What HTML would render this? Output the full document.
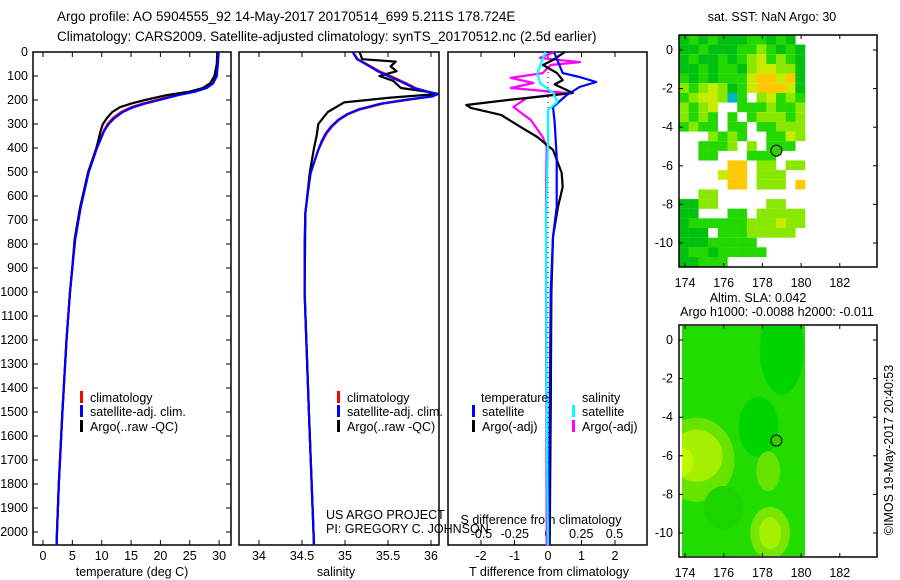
<!DOCTYPE html>
<html><head><meta charset="utf-8"><style>
body{margin:0;background:#fff}
svg{display:block;font-family:"Liberation Sans",sans-serif}
text{font-size:12.5px;fill:#000}
</style></head><body>
<svg id="fig" width="900" height="580" viewBox="0 0 900 580" xmlns="http://www.w3.org/2000/svg">
<defs><clipPath id="m2clip"><rect x="682" y="326" width="123" height="230"/></clipPath></defs>
<rect width="900" height="580" fill="#fff"/>
<text x="57" y="21" style="font-size:13.5px">Argo profile: AO 5904555_92 14-May-2017 20170514_699 5.211S 178.724E</text>
<text x="57" y="41" style="font-size:13.5px">Climatology: CARS2009. Satellite-adjusted climatology: synTS_20170512.nc (2.5d earlier)</text>
<g id="p1"></g>
<g id="p2"></g>
<g id="p3"></g>
<g id="m1"></g>
<g id="m2"></g>
<text x="772" y="21" text-anchor="middle">sat. SST: NaN Argo: 30</text>
<text x="758" y="302" text-anchor="middle">Altim. SLA: 0.042</text>
<text x="777" y="316" text-anchor="middle">Argo h1000: -0.0088 h2000: -0.011</text>
<text transform="translate(893,450) rotate(-90)" text-anchor="middle">©IMOS 19-May-2017 20:40:53</text>
</svg>
<script>
// ---- data ----
const depthTicks=[0,100,200,300,400,500,600,700,800,900,1000,1100,1200,1300,1400,1500,1600,1700,1800,1900,2000];
const tempTicks=[0,5,10,15,20,25,30];
const salTicks=[34,34.5,35,35.5,36];
const salTickLabels=["34","34.5","35","35.5","36"];
const tdTicks=[-2,-1,0,1,2];
const sdTicks=[-0.5,-0.25,0,0.25,0.5];
const sdTickLabels=["-0.5","-0.25","0","0.25","0.5"];

const depthT=[0,50,100,130,150,165,180,200,215,230,250,275,300,330,360,400,450,500,575,650,780,900,1000,1200,1500,1800,2055];
const tClim=[29.8,29.7,29.4,28.7,27.5,25.5,22.5,19.4,17,15,13.3,11.9,11.0,10.3,9.8,9.2,8.4,7.7,7.0,6.3,5.4,5.0,4.6,4.0,3.3,2.7,2.3];
const tSat=[29.9,29.8,29.6,29.0,27.9,26,23,19.8,17.4,15.4,13.6,12.2,11.2,10.4,9.9,9.2,8.5,7.8,7.1,6.4,5.5,5.0,4.6,4.0,3.3,2.7,2.3];
const tArgo=[29.7,29.6,29.2,28.5,27.2,25,21,17.4,15,13.1,11.8,10.9,10.2,9.8,9.5,9.1,8.4,7.7,7.0,6.3,5.4,5.0,4.6,4.0,3.3,2.7,2.3];

const depthS=[0,30,54,80,100,125,150,165,175,185,200,215,240,260,283,310,337,370,408,450,505,580,670,800,1000,1500,2055];
const sClim=[35.09,35.15,35.27,35.4,35.53,35.68,35.82,35.96,36.08,36.0,35.72,35.45,35.17,35.03,34.93,34.85,34.79,34.74,34.69,34.65,34.6,34.57,34.54,34.53,34.53,34.58,34.64];
const sSat=[35.09,35.14,35.26,35.38,35.5,35.66,35.8,35.95,36.08,36.02,35.69,35.42,35.15,35.02,34.92,34.84,34.78,34.73,34.69,34.65,34.6,34.57,34.54,34.53,34.53,34.58,34.64];
const depthSA=[0,30,40,60,80,100,120,150,165,175,190,210,250,300,350,400,505,670,1000,1500,2055];
const sArgo=[35.17,35.2,35.59,35.53,35.6,35.4,35.56,35.65,35.95,36.08,35.53,34.99,34.8,34.69,34.67,34.64,34.59,34.54,34.53,34.58,34.64];

const depthDB=[0,88,104,125,146,179,229,296,437,646,770,1000,1500,2055];
const dTsat=[0.18,0.44,0.94,1.44,0.94,0.56,0.15,0.2,0.26,0.26,0.15,0.08,0.05,0.03];
const depthDK=[0,33,54,88,117,135,171,200,221,233,262,312,354,408,504,562,646,770,1000,1500,2055];
const dTargo=[0.5,0.15,-0.15,0.27,0.44,0.2,0.74,-1.2,-2.44,-2.3,-1.4,-0.82,-0.32,0.15,0.41,0.44,0.3,0.15,0.1,0.08,0.05];
const depthDM=[0,25,42,54,88,108,129,150,171,192,229,283,354,396,600,1000,2055];
const dSargo=[0.05,-0.06,0.24,0.02,-0.04,-0.28,-0.11,-0.28,0.14,-0.16,-0.26,-0.13,-0.04,-0.01,-0.015,-0.015,-0.01];
const depthDC=[0,88,129,171,208,242,367,700,1500,2055];
const dSsat=[-0.02,-0.08,-0.06,0.04,0.07,0,0,-0.015,-0.01,0];

const lonTicks=[174,176,178,180,182];
const latTicks=[0,-2,-4,-6,-8,-10];
const sstGrid=[
"gGgGgggGGgGg.",
"ggGgggGGlGgGg",
"gGggGgGlyGlGg",
"ggGgGGglyyllg",
"GgGgGGGyooyog",
"lGlylgGyoooyg",
"GlyylcG.lyGlG",
"lGly..GGGlGGl",
"lGlG.G.GlllGl",
"GlGG.GG.GGlll",
"...lGlG..GGyl",
"..GGGl.l.GGG.",
"..GG...GGG...",
".....oo.ll.ll",
"....yoo.lll..",
".....oo.lll.o",
"..ll.........",
"ggll.....ll..",
"gg...GG.lllll",
"gGGGGGGlllyll",
"ggg.GGGlllll.",
"gggGGGGG.....",
"gGGgGGGGG....",
"ggGGG........"];
const argoLon=178.724, argoLat=-5.211;

// ---- helpers ----
const NS="http://www.w3.org/2000/svg";
function mk(parent,tag,attrs){const e=document.createElementNS(NS,tag);for(const k in attrs)e.setAttribute(k,attrs[k]);parent.appendChild(e);return e;}
const Y0=52,PY=0.24;
const yD=d=>Y0+d*PY;
const BOT=545;
const xT=t=>43+t*5.87;
const xS=s=>259+(s-34)*86;
const xTD=t=>548+t*33.5;
const xSD=s=>548+s*133;

function box(g,x0,x1){
  const r=mk(g,'rect',{x:x0,y:Y0,width:x1-x0,height:BOT-Y0,fill:'none',stroke:'#000','stroke-width':1.5});
  
  
}
function xticks(g,vals,labels,fx,ylab,name){
  vals.forEach((v,i)=>{
    const x=fx(v);
    mk(g,'line',{x1:x,x2:x,y1:BOT,y2:BOT-5,stroke:'#000'});
    mk(g,'line',{x1:x,x2:x,y1:Y0,y2:Y0+5,stroke:'#000'});
    const t=mk(g,'text',{x:x,y:ylab,'text-anchor':'middle'});
    t.textContent=labels[i];
    
    
  });
}
function line(g,ds,vs,fx,color,name,w){
  const pts=ds.map((d,i)=>fx(vs[i]).toFixed(1)+','+yD(d).toFixed(1)).join(' ');
  const p=mk(g,'polyline',{points:pts,fill:'none',stroke:color,'stroke-width':w||2.2,'stroke-linejoin':'round'});
  
  
}
function legend(g,x,y,color,label,name){
  mk(g,'rect',{x:x,y:y-11,width:3,height:12,fill:color});
  const t=mk(g,'text',{x:x+10,y:y});
  t.textContent=label;
  
  
}
// ---- panel 1 ----
const p1=document.getElementById('p1');
box(p1,33,231);
depthTicks.forEach(d=>{
  const y=yD(d);
  mk(p1,'line',{x1:33,x2:38,y1:y,y2:y,stroke:'#000'});
  mk(p1,'line',{x1:231,x2:226,y1:y,y2:y,stroke:'#000'});
  const t=mk(p1,'text',{x:28,y:y+4,'text-anchor':'end'});
  t.textContent=d;
  
  
});
xticks(p1,tempTicks,tempTicks.map(String),xT,560,'temperature');
const xl1=mk(p1,'text',{x:132,y:576,'text-anchor':'middle'});xl1.textContent='temperature (deg C)';


line(p1,depthT,tClim,xT,'#f00','temp-climatology-line');
line(p1,depthT,tArgo,xT,'#000','temp-argo-line');
line(p1,depthT,tSat,xT,'#00f','temp-satellite-line');
legend(p1,80,402,'#f00','climatology','legend-climatology');
legend(p1,80,416,'#00f','satellite-adj. clim.','legend-satellite');
legend(p1,80,431,'#000','Argo(..raw -QC)','legend-argo');
// ---- panel 2 ----
const p2=document.getElementById('p2');
box(p2,239,439);
xticks(p2,salTicks,salTickLabels,xS,560,'salinity');
const xl2=mk(p2,'text',{x:336,y:576,'text-anchor':'middle'});xl2.textContent='salinity';


line(p2,depthS,sClim,xS,'#f00','sal-climatology-line');
line(p2,depthSA,sArgo,xS,'#000','sal-argo-line');
line(p2,depthS,sSat,xS,'#00f','sal-satellite-line');
legend(p2,337,402,'#f00','climatology','legend-climatology');
legend(p2,337,416,'#00f','satellite-adj. clim.','legend-satellite');
legend(p2,337,431,'#000','Argo(..raw -QC)','legend-argo');
const pr1=mk(p2,'text',{x:326,y:519});pr1.textContent='US ARGO PROJECT';


const pr2=mk(p2,'text',{x:326,y:533});pr2.textContent='PI: GREGORY C. JOHNSON';


// ---- panel 3 ----
const p3=document.getElementById('p3');
box(p3,448,647);
tdTicks.forEach(v=>{const x=xTD(v);mk(p3,'line',{x1:x,x2:x,y1:BOT,y2:BOT-5,stroke:'#000'});mk(p3,'line',{x1:x,x2:x,y1:Y0,y2:Y0+5,stroke:'#000'});
  const t=mk(p3,'text',{x:x,y:560,'text-anchor':'middle'});t.textContent=v;
  
  });
sdTicks.forEach((v,i)=>{const t=mk(p3,'text',{x:xSD(v),y:538,'text-anchor':'middle'});t.textContent=sdTickLabels[i];
  
  });
const s3=mk(p3,'text',{x:541,y:524,'text-anchor':'middle'});s3.textContent='S difference from climatology';


const t3=mk(p3,'text',{x:549,y:576,'text-anchor':'middle'});t3.textContent='T difference from climatology';


mk(p3,'line',{x1:548,x2:548,y1:Y0,y2:BOT,stroke:'#000','stroke-dasharray':'1,4'});
line(p3,depthDM,dSargo,xSD,'#f0f','sdiff-argo-line');
line(p3,depthDK,dTargo,xTD,'#000','tdiff-argo-line');
line(p3,depthDB,dTsat,xTD,'#00f','tdiff-satellite-line');
line(p3,depthDC,dSsat,xSD,'#0ff','sdiff-satellite-line');
const lt=mk(p3,'text',{x:481,y:402});lt.textContent='temperature';


const ls=mk(p3,'text',{x:582,y:402});ls.textContent='salinity';


legend(p3,472,416,'#00f','satellite','legend-t-satellite');
legend(p3,472,431,'#000','Argo(-adj)','legend-t-argo');
legend(p3,572,416,'#0ff','satellite','legend-s-satellite');
legend(p3,572,431,'#f0f','Argo(-adj)','legend-s-argo');
// ---- maps ----
const lonX=l=>685+(l-174)*19.35;
function mapFrame(g,top,lat0){
  const latY=v=>lat0-v*19.3;
  const fr=mk(g,'rect',{x:679,y:top,width:198,height:232,fill:'none',stroke:'#000','stroke-width':1.5});
  
  
  lonTicks.forEach(l=>{const x=lonX(l);mk(g,'line',{x1:x,x2:x,y1:top,y2:top+4,stroke:'#000'});mk(g,'line',{x1:x,x2:x,y1:top+232,y2:top+228,stroke:'#000'});
    const t=mk(g,'text',{x:x,y:top+252,'text-anchor':'middle'});t.textContent=l;
    
    });
  latTicks.forEach(v=>{const y=latY(v);mk(g,'line',{x1:679,x2:683,y1:y,y2:y,stroke:'#000'});mk(g,'line',{x1:877,x2:873,y1:y,y2:y,stroke:'#000'});
    const t=mk(g,'text',{x:673,y:y+4,'text-anchor':'end'});t.textContent=v;
    
    });
  const c=mk(g,'circle',{cx:lonX(argoLon),cy:latY(argoLat),r:5.5,fill:'#33cc00',stroke:'#000','stroke-width':1});
  
  
}
const m1=document.getElementById('m1');
const cols={g:'#00c010',G:'#22d800',l:'#88e800',y:'#c8ec00',o:'#ffc800',c:'#00b4c8'};
sstGrid.forEach((row,r)=>{[...row].forEach((ch,c)=>{if(ch==='.')return;
  const y=35+r*9.65;const h=Math.min(9.7,267-y);
  mk(m1,'rect',{x:(679+c*9.7).toFixed(1),y:y.toFixed(1),width:9.9,height:h.toFixed(1),fill:cols[ch]});});});
mapFrame(m1,35,50);
const m2=document.getElementById('m2');
const fld=mk(m2,'g',{'clip-path':'url(#m2clip)'});
mk(fld,'rect',{x:682,y:325,width:123,height:232,fill:'#22dc00'});
mk(fld,'ellipse',{cx:lonX(179),cy:340+0.5*19.3,rx:22,ry:45,fill:'#00d400'});
mk(fld,'ellipse',{cx:lonX(177.8),cy:340+4.5*19.3,rx:20,ry:30,fill:'#00d400'});
mk(fld,'ellipse',{cx:lonX(174.6),cy:340+6.2*19.3,rx:38,ry:42,fill:'#66e400'});
mk(fld,'ellipse',{cx:lonX(174.6),cy:340+6.0*19.3,rx:26,ry:26,fill:'#a4f000'});
mk(fld,'ellipse',{cx:lonX(173.9),cy:340+6.3*19.3,rx:10,ry:14,fill:'#c0f800'});
mk(fld,'ellipse',{cx:lonX(178.3),cy:340+6.8*19.3,rx:12,ry:20,fill:'#66e400'});
mk(fld,'ellipse',{cx:lonX(178.4),cy:340+10*19.3,rx:20,ry:26,fill:'#77e600'});
mk(fld,'ellipse',{cx:lonX(178.4),cy:340+10*19.3,rx:11,ry:16,fill:'#a4f000'});
mk(fld,'ellipse',{cx:lonX(176),cy:340+8.7*19.3,rx:20,ry:22,fill:'#1cd400'});
mapFrame(m2,325,340);
</script>
</body></html>
